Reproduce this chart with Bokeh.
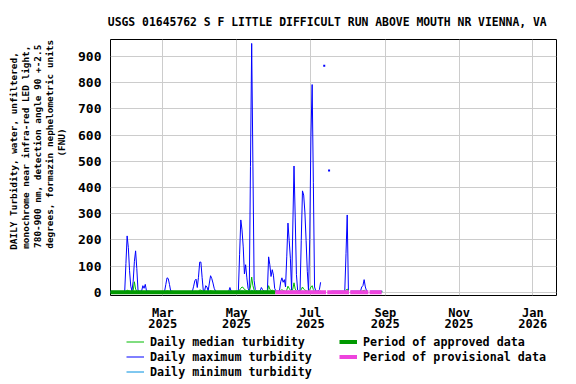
import math
from datetime import datetime
import numpy as np
import pandas as pd
from bokeh.plotting import figure
from bokeh.layouts import row, column
from bokeh.models import FixedTicker, Label, Legend, LegendItem, Range1d
from bokeh.embed import file_html
from bokeh.resources import INLINE

nan = float("nan")

title_text = "USGS 01645762 S F LITTLE DIFFICULT RUN ABOVE MOUTH NR VIENNA, VA"
ylabel_lines = [
    "DAILY Turbidity, water, unfiltered,",
    "monochrome near infra-red LED light,",
    "780-900 nm, detection angle 90 +-2.5",
    "degrees, formazin nephelometric units",
    "(FNU)",
]
legend_labels = ["Daily median turbidity", "Daily maximum turbidity", "Daily minimum turbidity",
                 "Period of approved data", "Period of provisional data"]

series_start = "2025-01-16 12:00"

# Daily maximum turbidity (FNU), Jan 16 .. Aug 29 2025
max_jan = [4, 3, 3, 3, 3, 3, 3, 3, 3, 3, 3, 3, 4, 110, 215, 170]
max_feb = [82, 23, 5, 42, 118, 158, 90, 6, 4, 4, 5, 25, 15, 30, 5, 4, 4, 3, 3, 3,
           3, 3, 3, 3, 3, 3, 3, 3]
max_mar = [3, 4, 30, 55, 52, 30, 5, 4, 3, 3, 3, 3, 3, 3, 3, 3, 3, 3, 3, 3,
           3, 3, 3, 3, 4, 23, 44, 50, 18, 57, 115]
max_apr = [115, 57, 5, 4, 25, 20, 5, 35, 63, 52, 35, 15, 5, 3, 3, 3, 3, 3, 3, 3,
           3, 3, 3, 3, 18, 4, 3, 3, 3, 4]
max_may = [4, 6, 143, 276, 238, 173, 70, 105, 55, 15, 5, 480, 950, 490, 45, 10, 5, 4, 4, 5,
           18, 10, 4, 4, 4, 6, 135, 105, 60, 86, 65]
max_jun = [15, 5, 4, 5, 6, 40, 55, 38, 48, 20, 135, 264, 198, 130, 8, 249, 482, 287, 67, 8,
           5, 6, 198, 387, 371, 306, 198, 80, 5, 200]
max_jul = [596, 793, 418, 20, 5, 4, 5, 10, 38, nan, nan, 865, nan, nan, nan, 465, nan, 4, 4, 4,
           4, 4, 4, 4, 4, 4, 4, 4, 6, 147, 295]
max_aug = [5, nan, 4, 4, 4, 4, 4, 4, 4, 4, 4, 20, 25, 48, 20, 5, 4, nan, 4, 4,
           4, 4, 4, 4, 4, 4, 4, 4, 4]

# Daily median turbidity
med_jan = [2, 2, 2, 2, 2, 2, 2, 2, 2, 2, 2, 2, 2, 3, 8, 6]
med_feb = [4, 3, 2, 6, 40, 12, 4, 3, 2, 2, 2, 3, 3, 3, 2, 2, 2, 2, 2, 2,
           2, 2, 2, 2, 2, 2, 2, 2]
med_mar = [2, 2, 3, 5, 4, 3, 2, 2, 2, 2, 2, 2, 2, 2, 2, 2, 2, 2, 2, 2,
           2, 2, 2, 2, 2, 3, 3, 4, 2, 4, 8]
med_apr = [8, 4, 2, 2, 3, 3, 2, 3, 6, 4, 3, 2, 2, 2, 2, 2, 2, 2, 2, 2,
           2, 2, 2, 2, 3, 2, 2, 2, 2, 2]
med_may = [2, 2, 8, 15, 20, 18, 10, 8, 5, 3, 2, 20, 58, 25, 8, 3, 2, 2, 2, 2,
           3, 2, 2, 2, 2, 2, 25, 12, 6, 8, 5]
med_jun = [3, 2, 2, 2, 3, 6, 10, 6, 5, 3, 8, 23, 15, 8, 3, 12, 36, 12, 5, 2,
           2, 2, 10, 20, 12, 8, 6, 4, 2, 10]
med_jul = [20, 25, 10, 3, 2, 2, 2, 3, 5, nan, nan, nan, nan, nan, nan, nan, nan, 2, 2, 2,
           2, 2, 2, 2, 2, 2, 2, 2, 2, 8, 12]
med_aug = [2, nan, 2, 2, 2, 2, 2, 2, 2, 2, 2, 4, 5, 8, 4, 2, 2, nan, 2, 2,
           2, 2, 2, 2, 2, 2, 2, 2, 2]

# Daily minimum turbidity
min_jan = [1, 1, 1, 1, 1, 1, 1, 1, 1, 1, 1, 1, 1, 1, 2, 2]
min_feb = [2, 1, 1, 1, 2, 2, 1, 1, 1, 1, 1, 1, 1, 1, 1, 1, 1, 1, 1, 1,
           1, 1, 1, 1, 1, 1, 1, 1]
min_mar = [1, 1, 1, 2, 2, 1, 1, 1, 1, 1, 1, 1, 1, 1, 1, 1, 1, 1, 1, 1,
           1, 1, 1, 1, 1, 1, 2, 2, 1, 2, 3]
min_apr = [3, 2, 1, 1, 1, 1, 1, 1, 2, 2, 1, 1, 1, 1, 1, 1, 1, 1, 1, 1,
           1, 1, 1, 1, 1, 1, 1, 1, 1, 1]
min_may = [1, 1, 2, 4, 5, 4, 3, 3, 2, 1, 1, 3, 8, 5, 2, 1, 1, 1, 1, 1,
           1, 1, 1, 1, 1, 1, 4, 3, 2, 2, 2]
min_jun = [2, 1, 1, 1, 1, 2, 3, 2, 2, 1, 2, 4, 3, 2, 1, 3, 5, 3, 2, 1,
           1, 1, 2, 4, 3, 2, 2, 1, 1, 2]
min_jul = [3, 4, 3, 1, 1, 1, 1, 1, 2, nan, nan, nan, nan, nan, nan, nan, nan, 1, 1, 1,
           1, 1, 1, 1, 1, 1, 1, 1, 1, 2, 3]
min_aug = [1, nan, 1, 1, 1, 1, 1, 1, 1, 1, 1, 2, 2, 3, 2, 1, 1, nan, 1, 1,
           1, 1, 1, 1, 1, 1, 1, 1, 1]

approved_start = ["2025-01-16"]
approved_end = ["2025-06-02"]
prov_start = ["2025-06-02", "2025-07-15", "2025-08-03", "2025-08-19"]
prov_end = ["2025-07-14", "2025-08-02", "2025-08-18", "2025-08-29"]

tick_dates = ["2025-03-01", "2025-05-01", "2025-07-01", "2025-09-01", "2025-11-01", "2026-01-01"]
tick_labels = ["Mar\n2025", "May\n2025", "Jul\n2025", "Sep\n2025", "Nov\n2025", "Jan\n2026"]
y_ticks = [0, 100, 200, 300, 400, 500, 600, 700, 800, 900]

x_start = datetime(2025, 1, 16, 17, 45)
x_end = datetime(2026, 1, 20, 14, 0)
y_start, y_end = -12.5, 965

# ---------------------------------------------------------------
FONT = "DejaVu Sans Mono"
C_MAX, C_MIN, C_MED = "#0000ff", "#0090e0", "#00bb00"
C_APP, C_PROV = "#009900", "#ee44dd"

vmax = np.array(max_jan + max_feb + max_mar + max_apr + max_may + max_jun + max_jul + max_aug, dtype=float)
vmed = np.array(med_jan + med_feb + med_mar + med_apr + med_may + med_jun + med_jul + med_aug, dtype=float)
vmin = np.array(min_jan + min_feb + min_mar + min_apr + min_may + min_jun + min_jul + min_aug, dtype=float)
dates = pd.date_range(series_start, periods=len(vmax), freq="D")

LEFT_W = 68
MAIN_H = 334

# ---------------- main plot ----------------
p = figure(width=576 - LEFT_W, height=MAIN_H, x_axis_type="datetime", output_backend="svg",
           toolbar_location=None,
           x_range=Range1d(x_start, x_end), y_range=Range1d(y_start, y_end),
           min_border_left=110 - LEFT_W, min_border_right=20, min_border_top=39,
           min_border_bottom=MAIN_H - 296)
p.background_fill_color = "white"
p.border_fill_color = "white"
p.outline_line_color = "black"
p.outline_line_width = 1

p.title.text = title_text
p.title.align = "left"
p.title.offset = -2.7
p.title.standoff = 22
p.title.text_font = FONT
p.title.text_font_style = "bold"
p.title.text_font_size = "11.4px"
p.title.text_color = "black"

p.grid.grid_line_color = "#cccccc"
p.grid.grid_line_width = 1

tick_ms = [pd.Timestamp(d).value / 1e6 for d in tick_dates]
p.xaxis.ticker = FixedTicker(ticks=tick_ms)
p.xaxis.major_label_overrides = {t: l for t, l in zip(tick_ms, tick_labels)}
p.yaxis.ticker = FixedTicker(ticks=y_ticks)
for ax in (p.xaxis, p.yaxis):
    ax.axis_line_color = None
    ax.major_tick_line_color = None
    ax.minor_tick_line_color = None
    ax.major_tick_out = 0
    ax.major_tick_in = 0
    ax.minor_tick_out = 0
    ax.major_label_text_font = FONT
    ax.major_label_text_font_style = "bold"
    ax.major_label_text_font_size = "12px"
    ax.major_label_text_color = "black"
p.yaxis.major_label_text_font_size = "13px"
p.xaxis.major_label_standoff = 10
p.xaxis.major_label_text_line_height = 0.85
p.yaxis.major_label_standoff = 9

p.line(dates, vmax, line_color=C_MAX, line_width=1)
p.line(dates, vmin, line_color=C_MIN, line_width=1)
p.line(dates, vmed, line_color=C_MED, line_width=1)

prev_nan = np.r_[True, np.isnan(vmax[:-1])]
next_nan = np.r_[np.isnan(vmax[1:]), True]
iso = (~np.isnan(vmax)) & prev_nan & next_nan
p.scatter(dates[iso], vmax[iso], marker="square", size=2, line_color=C_MAX,
          fill_color=C_MAX, line_width=0)

p.segment(x0=pd.to_datetime(approved_start), y0=[0] * len(approved_start),
          x1=pd.to_datetime(approved_end), y1=[0] * len(approved_end),
          line_color=C_APP, line_width=4)
p.segment(x0=pd.to_datetime(prov_start), y0=[0] * len(prov_start),
          x1=pd.to_datetime(prov_end), y1=[0] * len(prov_end),
          line_color=C_PROV, line_width=4)

def blank_fig(w, h):
    f = figure(width=w, height=h, output_backend="svg", toolbar_location=None,
               x_range=Range1d(0, 1), y_range=Range1d(0, 1), min_border=0,
               x_axis_location=None, y_axis_location=None)
    f.grid.visible = False
    f.outline_line_color = None
    f.background_fill_color = "white"
    f.border_fill_color = "white"
    return f

# ---------------- y-axis label panel ----------------
ylab = blank_fig(LEFT_W, 384)
ylab_x = [13.3, 25.0, 37.3, 49.3, 61.0]
ylab_y = [150.5, 146.7, 145.8, 143.8, 142.0]
for xx, yy, txt in zip(ylab_x, ylab_y, ylabel_lines):
    ylab.add_layout(Label(x=xx, y=384 - yy, x_units="screen", y_units="screen", text=txt,
                          angle=math.pi / 2, text_align="center", text_baseline="middle",
                          text_font=FONT, text_font_style="bold", text_font_size="9.4px",
                          text_color="black"))

# ---------------- legend panel (frame aligned with the main plot frame) ----------------
LEG_H = 384 - MAIN_H
leg = blank_fig(576 - LEFT_W, LEG_H)
proxy = dict(x=[nan], y=[nan])   # legend proxies: nothing drawn in the panel itself
g_med = leg.line(line_color=C_MED, line_width=1, line_alpha=1.0, **proxy)
g_max = leg.line(line_color=C_MAX, line_width=1, line_alpha=1.0, **proxy)
g_min = leg.line(line_color=C_MIN, line_width=1, line_alpha=1.0, **proxy)
g_app = leg.line(line_color=C_APP, line_width=4, **proxy)
g_prov = leg.line(line_color=C_PROV, line_width=4, **proxy)
legend = Legend(items=[LegendItem(label=lab, renderers=[r]) for lab, r in
                       zip(legend_labels, [g_med, g_max, g_min, g_app, g_prov])],
                location=(126 - 110, LEG_H - 45), orientation="vertical", nrows=3,
                padding=0, margin=0, border_line_color=None, background_fill_alpha=0,
                glyph_width=18, glyph_height=15, label_height=15, label_width=189,
                spacing=0, label_standoff=6,
                label_text_font=FONT, label_text_font_style="bold",
                label_text_font_size="11.7px", label_text_color="black")
leg.add_layout(legend)

layout = row(ylab, column(p, leg, spacing=0), spacing=0)
open("out.html", "w").write(file_html(layout, INLINE))
